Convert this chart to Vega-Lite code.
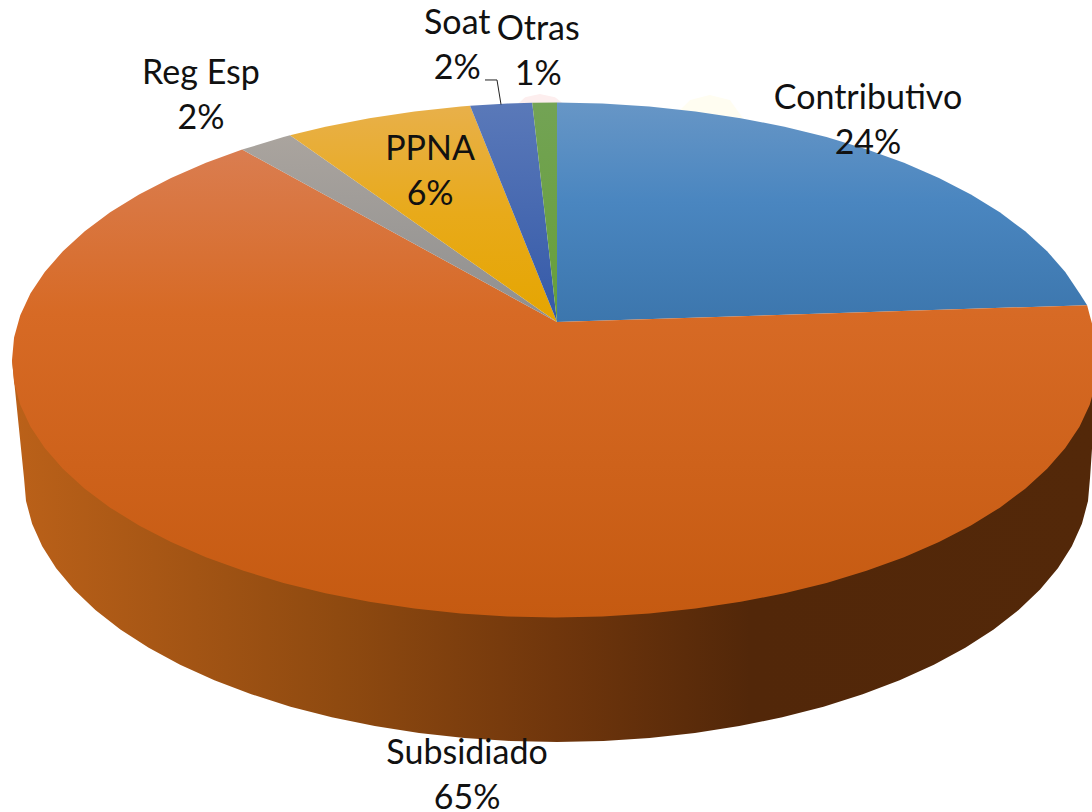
{"$schema":"https://vega.github.io/schema/vega-lite/v6.json","width":1092,"height":812,"padding":0,"autosize":{"type":"fit","contains":"padding"},"background":"white","config":{"view":{"stroke":null}},
"projection":{"type":"identity","scale":543,"translate":[555,360]},
"datasets":{
"glow":[
{"type":"Feature","properties":{"name":"pink"},"geometry":{"type":"Polygon","coordinates":[[[-0.07,-0.47],[-0.055,-0.484],[-0.028,-0.49],[0,-0.484],[0.018,-0.47],[-0.07,-0.47]]]}},
{"type":"Feature","properties":{"name":"yellow"},"geometry":{"type":"Polygon","coordinates":[[[0.23,-0.46],[0.249,-0.479],[0.285,-0.488],[0.322,-0.479],[0.346,-0.445],[0.23,-0.46]]]}}
],
"wall":[{"type":"Feature","properties":{"name":"Pared"},"geometry":{"type":"Polygon","coordinates":[[[-1,0],[-0.9779,0.2173],[-0.9742,0.2597],[-0.963,0.3017],[-0.9444,0.3431],[-0.9187,0.3836],[-0.8859,0.4228],[-0.8464,0.4604],[-0.8004,0.4962],[-0.7482,0.5298],[-0.6904,0.5611],[-0.6273,0.5897],[-0.5593,0.6156],[-0.4871,0.6384],[-0.4111,0.6579],[-0.332,0.6742],[-0.2503,0.6869],[-0.1667,0.6961],[-0.0819,0.7016],[0.0037,0.7035],[0.0893,0.7016],[0.1741,0.6961],[0.2577,0.6869],[0.3394,0.6742],[0.4185,0.6579],[0.4945,0.6384],[0.5667,0.6156],[0.6347,0.5897],[0.6978,0.5611],[0.7556,0.5298],[0.8078,0.4962],[0.8538,0.4604],[0.8933,0.4228],[0.9261,0.3836],[0.9518,0.3431],[0.9704,0.3017],[0.9816,0.2597],[0.9853,0.2173],[1,0],[-1,0]]]}}],
"slices":[
{"type":"Feature","properties":{"name":"Contributivo","share":24},"geometry":{"type":"Polygon","coordinates":[[[0.0037,-0.07],[0.0037,-0.474],[0.0872,-0.4722],[0.1736,-0.4668],[0.2588,-0.4578],[0.342,-0.4454],[0.4226,-0.4296],[0.5,-0.4105],[0.5736,-0.3883],[0.6428,-0.3631],[0.7071,-0.3352],[0.766,-0.3047],[0.8192,-0.2719],[0.866,-0.237],[0.9063,-0.2003],[0.9397,-0.1621],[0.9659,-0.1227],[0.98,-0.101],[0.0037,-0.07]]]}},
{"type":"Feature","properties":{"name":"Subsidiado","share":65},"geometry":{"type":"Polygon","coordinates":[[[0.0037,-0.07],[0.98,-0.101],[0.9848,-0.0823],[0.9962,-0.0413],[1,0],[0.9962,0.0413],[0.9848,0.0823],[0.9659,0.1227],[0.9397,0.1621],[0.9063,0.2003],[0.866,0.237],[0.8192,0.2719],[0.766,0.3047],[0.7071,0.3352],[0.6428,0.3631],[0.5736,0.3883],[0.5,0.4105],[0.4226,0.4296],[0.342,0.4454],[0.2588,0.4578],[0.1736,0.4668],[0.0872,0.4722],[0,0.474],[-0.0872,0.4722],[-0.1736,0.4668],[-0.2588,0.4578],[-0.342,0.4454],[-0.4226,0.4296],[-0.5,0.4105],[-0.5736,0.3883],[-0.6428,0.3631],[-0.7071,0.3352],[-0.766,0.3047],[-0.8192,0.2719],[-0.866,0.237],[-0.9063,0.2003],[-0.9397,0.1621],[-0.9659,0.1227],[-0.9848,0.0823],[-0.9962,0.0413],[-1,0],[-0.9962,-0.0413],[-0.9848,-0.0823],[-0.9659,-0.1227],[-0.9397,-0.1621],[-0.9063,-0.2003],[-0.866,-0.237],[-0.8192,-0.2719],[-0.766,-0.3047],[-0.7071,-0.3352],[-0.6428,-0.3631],[-0.576,-0.3875],[0.0037,-0.07]]]}},
{"type":"Feature","properties":{"name":"Reg Esp","share":2},"geometry":{"type":"Polygon","coordinates":[[[0.0037,-0.07],[-0.576,-0.3875],[-0.5,-0.4105],[-0.488,-0.4138],[0.0037,-0.07]]]}},
{"type":"Feature","properties":{"name":"PPNA","share":6},"geometry":{"type":"Polygon","coordinates":[[[0.0037,-0.07],[-0.488,-0.4138],[-0.4226,-0.4296],[-0.342,-0.4454],[-0.2588,-0.4578],[-0.1736,-0.4668],[-0.1564,-0.4682],[0.0037,-0.07]]]}},
{"type":"Feature","properties":{"name":"Soat","share":2},"geometry":{"type":"Polygon","coordinates":[[[0.0037,-0.07],[-0.1564,-0.4682],[-0.0872,-0.4722],[-0.0419,-0.4736],[0.0037,-0.07]]]}},
{"type":"Feature","properties":{"name":"Otras","share":1},"geometry":{"type":"Polygon","coordinates":[[[0.0037,-0.07],[-0.0419,-0.4736],[0.0037,-0.474],[0.0037,-0.07]]]}}
],
"leader":[{"type":"Feature","properties":{"name":"Soat"},"geometry":{"type":"LineString","coordinates":[[-0.1289,-0.5157],[-0.1068,-0.5157],[-0.0994,-0.4705]]}}],
"labels":[
{"label":"Contributivo\n24%","lon":0.5764,"lat":-0.481},
{"label":"Subsidiado\n65%","lon":-0.162,"lat":0.725},
{"label":"Reg Esp\n2%","lon":-0.652,"lat":-0.527},
{"label":"PPNA\n6%","lon":-0.23,"lat":-0.387},
{"label":"Soat\n2%","lon":-0.18,"lat":-0.619},
{"label":"Otras\n1%","lon":-0.031,"lat":-0.608}
]},
"layer":[
{"data":{"name":"glow"},"transform":[{"filter":"datum.properties.name=='pink'"}],"mark":{"type":"geoshape","strokeWidth":0,"fill":"#fdeeee"}},
{"data":{"name":"glow"},"transform":[{"filter":"datum.properties.name=='yellow'"}],"mark":{"type":"geoshape","strokeWidth":0,"fill":"#fffdf1"}},
{"data":{"name":"wall"},"mark":{"type":"geoshape","strokeWidth":0,"fill":{"gradient":"linear","x1":0,"x2":1,"y1":0,"y2":0,"stops":[{"offset":0,"color":"#bb6119"},{"offset":0.3,"color":"#8f4a10"},{"offset":0.5,"color":"#70360c"},{"offset":0.68,"color":"#522709"},{"offset":1,"color":"#532809"}]}}},
{"data":{"name":"slices"},"transform":[{"filter":"datum.properties.name=='Contributivo'"}],"mark":{"type":"geoshape","strokeWidth":0,"fill":{"gradient":"linear","x1":0,"x2":0,"y1":0,"y2":1,"stops":[{"offset":0,"color":"#6796c6"},{"offset":0.45,"color":"#4a86c0"},{"offset":1,"color":"#3c76ad"}]}}},
{"data":{"name":"slices"},"transform":[{"filter":"datum.properties.name=='Subsidiado'"}],"mark":{"type":"geoshape","strokeWidth":0,"fill":{"gradient":"linear","x1":0,"x2":0,"y1":0,"y2":1,"stops":[{"offset":0,"color":"#da7d50"},{"offset":0.35,"color":"#d76a25"},{"offset":1,"color":"#c55a11"}]}}},
{"data":{"name":"slices"},"transform":[{"filter":"datum.properties.name=='Reg Esp'"}],"mark":{"type":"geoshape","strokeWidth":0,"fill":{"gradient":"linear","x1":0,"x2":0,"y1":0,"y2":1,"stops":[{"offset":0,"color":"#aaa49e"},{"offset":1,"color":"#8f8f8f"}]}}},
{"data":{"name":"slices"},"transform":[{"filter":"datum.properties.name=='PPNA'"}],"mark":{"type":"geoshape","strokeWidth":0,"fill":{"gradient":"linear","x1":0,"x2":0,"y1":0,"y2":1,"stops":[{"offset":0,"color":"#e8b04a"},{"offset":0.5,"color":"#e8aa1a"},{"offset":1,"color":"#e5a500"}]}}},
{"data":{"name":"slices"},"transform":[{"filter":"datum.properties.name=='Soat'"}],"mark":{"type":"geoshape","strokeWidth":0,"fill":{"gradient":"linear","x1":0,"x2":0,"y1":0,"y2":1,"stops":[{"offset":0,"color":"#5a79b9"},{"offset":1,"color":"#3459a8"}]}}},
{"data":{"name":"slices"},"transform":[{"filter":"datum.properties.name=='Otras'"}],"mark":{"type":"geoshape","strokeWidth":0,"fill":{"gradient":"linear","x1":0,"x2":0,"y1":0,"y2":1,"stops":[{"offset":0,"color":"#73a355"},{"offset":1,"color":"#669f38"}]}}},
{"data":{"name":"leader"},"mark":{"type":"geoshape","filled":false,"stroke":"#222222","strokeWidth":1}},
{"data":{"name":"labels"},"mark":{"type":"text","font":"Lato","fontSize":34,"lineBreak":"\n","lineHeight":45,"align":"center","baseline":"middle","color":"#111111"},"encoding":{"longitude":{"field":"lon","type":"quantitative"},"latitude":{"field":"lat","type":"quantitative"},"text":{"field":"label","type":"nominal"}}}
]}
